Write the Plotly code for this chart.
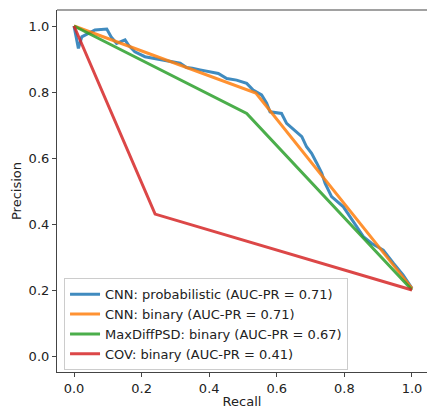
import plotly.graph_objects as go

# CNN probabilistic PR curve
cnn_prob_recall = [0.0, 0.013, 0.023, 0.062, 0.097, 0.11, 0.126, 0.151, 0.161, 0.18, 0.21,
                   0.225, 0.254, 0.284, 0.314, 0.333, 0.35, 0.373, 0.402, 0.427, 0.452, 0.481,
                   0.511, 0.530, 0.555, 0.570, 0.58, 0.614, 0.629, 0.659, 0.674, 0.688,
                   0.703, 0.718, 0.733, 0.743, 0.762, 0.797, 0.826, 0.856, 0.881, 0.915,
                   0.945, 0.974, 1.0]
cnn_prob_precision = [1.0, 0.932, 0.967, 0.988, 0.991, 0.967, 0.947, 0.958, 0.942, 0.922, 0.907,
                      0.904, 0.897, 0.892, 0.887, 0.874, 0.872, 0.867, 0.862, 0.856, 0.841, 0.836,
                      0.826, 0.806, 0.791, 0.766, 0.740, 0.735, 0.705, 0.68, 0.665, 0.634,
                      0.614, 0.585, 0.554, 0.523, 0.483, 0.452, 0.407, 0.362, 0.341, 0.321,
                      0.281, 0.245, 0.205]

cnn_bin_recall = [0.0, 0.538, 1.0]
cnn_bin_precision = [1.0, 0.797, 0.205]

maxdiff_recall = [0.0, 0.511, 1.0]
maxdiff_precision = [1.0, 0.735, 0.2]

cov_recall = [0.0, 0.24, 1.0]
cov_precision = [1.0, 0.43, 0.2]

names = ["CNN: probabilistic (AUC-PR = 0.71)",
         "CNN: binary (AUC-PR = 0.71)",
         "MaxDiffPSD: binary (AUC-PR = 0.67)",
         "COV: binary (AUC-PR = 0.41)"]
colors = ["#1f77b4", "#ff7f0e", "#2ca02c", "#d62728"]

x_ticks = [0.0, 0.2, 0.4, 0.6, 0.8, 1.0]
y_ticks = [0.0, 0.2, 0.4, 0.6, 0.8, 1.0]

series = [(cnn_prob_recall, cnn_prob_precision),
          (cnn_bin_recall, cnn_bin_precision),
          (maxdiff_recall, maxdiff_precision),
          (cov_recall, cov_precision)]

fig = go.Figure()
for i, ((xs, ys), name, c) in enumerate(zip(series, names, colors)):
    fig.add_trace(go.Scatter(x=xs, y=ys, mode="lines", name=name,
                             line=dict(color=c, width=3), legendgroup=f"g{i}",
                             opacity=0.85))

font = dict(family="DejaVu Sans", size=13, color="#222")
axis_common = dict(showgrid=False, zeroline=False, showline=True, linecolor="#444",
                   linewidth=1.2, ticks="outside", ticklen=4, tickcolor="#444",
                   tickfont=font, tickformat=".1f", automargin=False)

fig.update_layout(
    width=427, height=410,
    margin=dict(l=57, r=0, t=10, b=38),
    plot_bgcolor="white", paper_bgcolor="white",
    font=font,
    xaxis=dict(range=[-0.0503, 1.0444], tickvals=x_ticks, mirror=False,
               title=dict(text="Recall", font=font, standoff=2), **axis_common),
    yaxis=dict(range=[-0.0485, 1.0485], tickvals=y_ticks,
               title=dict(text="Precision", font=font, standoff=4), **axis_common),
    legend=dict(x=0.019, y=0.005, xanchor="left", yanchor="bottom",
                bgcolor="rgba(255,255,255,0.85)", bordercolor="#ccc", borderwidth=1,
                font=font, tracegroupgap=0, itemwidth=30),
    showlegend=True,
)
# top spine
fig.add_shape(type="line", xref="paper", yref="paper", x0=0, x1=1, y0=1, y1=1,
              line=dict(color="#444", width=1.2))

fig.write_html("out.html", config={"displayModeBar": False},
               post_script="document.body.style.margin='0';document.body.style.overflow='hidden';")
